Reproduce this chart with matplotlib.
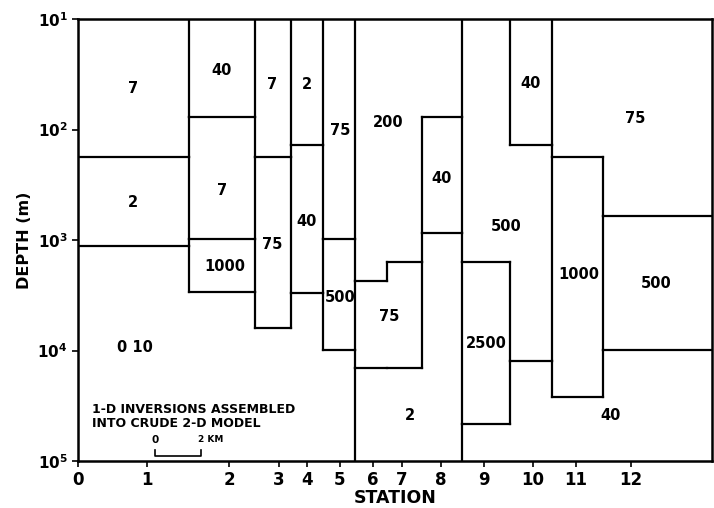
import numpy as np
import matplotlib
matplotlib.use("Agg")
import matplotlib.pyplot as plt

plt.rcParams['font.family'] = ['DejaVu Sans']
plt.rcParams['font.weight'] = 'bold'

# distance along profile (km) of each station tick
station_names = ['0', '1', '2', '3', '4', '5', '6', '7', '8', '9', '10', '11', '12']
station_km = [0.0, 3.0, 6.57, 8.74, 9.96, 11.39, 12.83, 14.09, 15.78, 17.65, 19.78, 21.65, 24.04]

# edges of each 1-D inversion column (km)
col_edges = [0.0, 4.83, 7.70, 9.26, 10.65, 12.04, 13.43, 14.96, 16.70, 18.78, 20.61, 22.83, 27.57]

# layer bottoms (m) and region ids for each column (top -> bottom)
col_bottoms = [
    [178, 1130],
    [77, 982, 2950],
    [178, 6200],
    [138, 3020],
    [982, 9800],
    [2350, 14400],
    [1590, 14400],
    [77, 868],
    [1590, 46200],
    [138, 12400],
    [178, 26500],
    [607, 9800],
]
col_regions = [
    ['a7', 'a2', 'q'],
    ['b40', 'b7', 'b1000', 'q'],
    ['c7', 'c75', 'q'],
    ['d2', 'd40', 'q'],
    ['e75', 'e500', 'q'],
    ['f200', 'f75', 'f2'],
    ['f200', 'f75', 'f2'],
    ['f200', 'g40', 'f2'],
    ['h500', 'h2500', 'h40'],
    ['i40', 'h500', 'h40'],
    ['j75', 'j1000', 'h40'],
    ['j75', 'k500', 'h40'],
]

# resistivity label of each region and where it is written (km, m)
region_text = ['7', '40', '2', '7', '1000', '0 10', '7', '2', '75', '200', '40',
               '75', '40', '500', '75', '2', '40', '75', '500', '2500',
               '1000', '500', '40']
region_x = [2.39, 6.26, 2.39, 6.26, 6.39, 2.48, 8.43, 9.96, 11.39, 13.48, 15.83,
            8.43, 9.96, 11.39, 13.52, 14.43, 19.70, 24.22, 18.61, 17.74,
            21.78, 25.13, 23.17]
region_depth = [43, 29, 453, 360, 1750, 9480, 38.8, 38.8, 103, 87, 276,
                1090, 675, 3280, 4900, 39000, 38, 79, 760, 8700,
                2050, 2500, 39000]

ztop, zbot = 10.0, 1e5


def region_at(i, z):
    b = col_bottoms[i]
    for k, zb in enumerate(b):
        if z < zb:
            return col_regions[i][k]
    return col_regions[i][-1]


fig = plt.figure(figsize=(7.14, 5.08), dpi=100)
ax = fig.add_axes([0.1092, 0.0925, 0.8878, 0.8701])
ax.set_yscale('log')
ax.set_xlim(col_edges[0], col_edges[-1])
ax.set_ylim(zbot, ztop)

lw = 1.6
# horizontal layer boundaries
for i in range(len(col_bottoms)):
    for zb in col_bottoms[i]:
        ax.plot([col_edges[i], col_edges[i + 1]], [zb, zb], color='black', lw=lw,
                solid_capstyle='projecting')

# vertical boundaries where neighbouring regions differ
for i in range(len(col_bottoms) - 1):
    zs = sorted(set([ztop, zbot] + col_bottoms[i] + col_bottoms[i + 1]))
    for z0, z1 in zip(zs[:-1], zs[1:]):
        zm = np.sqrt(z0 * z1)
        if region_at(i, zm) != region_at(i + 1, zm):
            ax.plot([col_edges[i + 1]] * 2, [z0, z1], color='black', lw=lw,
                    solid_capstyle='projecting')

for t, x, z in zip(region_text, region_x, region_depth):
    ax.text(x, z, t, ha='center', va='center', fontsize=10.5, fontweight='bold')

ax.text(0.6, 39500, '1-D INVERSIONS ASSEMBLED\nINTO CRUDE 2-D MODEL', ha='left',
        va='center', fontsize=9, fontweight='bold', linespacing=1.05)

# scale bar 0 - 2 km
sb0, sb1, sbz = 3.35, 5.35, 90000
ax.plot([sb0, sb0, sb1, sb1], [79000, sbz, sbz, 79000], color='black', lw=1.2)
ax.text(sb0, 64000, '0', ha='center', va='center', fontsize=7.5, fontweight='bold')
ax.text(sb1 - 0.15, 64000, '2 KM', ha='left', va='center', fontsize=6.5, fontweight='bold')

ax.set_xticks(station_km)
ax.set_xticklabels(station_names, fontsize=12, fontweight='bold')
ax.set_yticks([1e1, 1e2, 1e3, 1e4, 1e5])
ax.set_yticklabels([r'$\mathbf{10^{%d}}$' % k for k in range(1, 6)], fontsize=11)
ax.yaxis.set_minor_locator(matplotlib.ticker.NullLocator())
ax.tick_params(direction='out', length=4, width=1.2)
ax.set_xlabel('STATION', fontsize=12.5, fontweight='bold', labelpad=0)
ax.set_ylabel('DEPTH (m)', fontsize=11.5, fontweight='bold', labelpad=4)
for s in ax.spines.values():
    s.set_linewidth(1.8)

fig.savefig('out.png', dpi=100)
